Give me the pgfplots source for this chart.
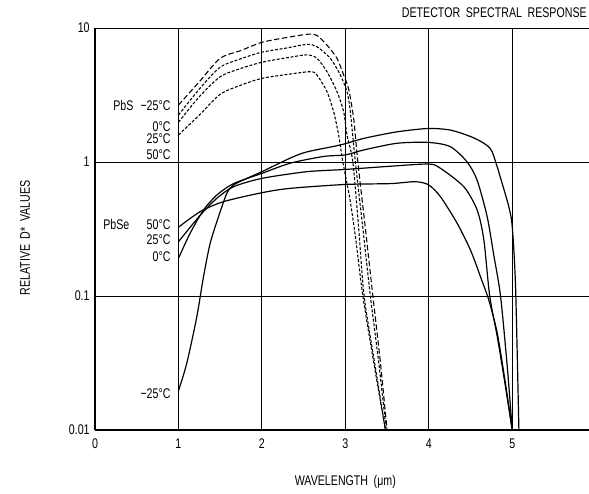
\documentclass[border=0pt]{standalone}
\usepackage{fontspec}
\setmainfont{Liberation Sans}[FakeStretch=0.76]
\usepackage{pgfplots}
\pgfplotsset{compat=1.18}
\begin{document}
\begin{tikzpicture}[font=\fontsize{10.5}{12}\selectfont]
\begin{axis}[
  scale only axis, width=370.5pt, height=301.5pt,
  xmin=0, xmax=5.92, ymode=log, ymin=0.01, ymax=10,
  axis lines*=left,
  axis line style={line width=0.8pt},
  xtick={0,1,2,3,4,5}, xticklabels={0,1,2,3,4,5},
  ytick={0.01,0.1,1,10}, yticklabels={0.01,0.1,1,10},
  major tick length=0pt, minor tick length=0pt,
  grid=major, major grid style={black, line width=0.6pt},
  /pgf/number format/assume math mode=true,
  yticklabel style={xshift=-0.5pt},
  xticklabel style={yshift=-3pt},
  every axis plot/.append style={black, no markers, smooth, tension=0.45},
  clip mode=individual,
]
% PbS (dashed)
\addplot[line width=0.8pt, dash pattern=on 4pt off 2pt] coordinates {
(1.0,2.66) (1.25,3.97) (1.5,5.94) (1.75,6.8) (2.0,7.82) (2.3,8.5) (2.56,9.0) (2.66,8.8) (2.78,7.46) (2.9,5.94) (2.98,4.46) (3.04,3.5) (3.1,2.1) (3.15,1.0) (3.24,0.32) (3.33,0.1) (3.42,0.032) (3.50,0.01)};
\addplot[line width=0.8pt, dash pattern=on 2.2pt off 1.3pt] coordinates {
(1.0,2.24) (1.25,3.5) (1.5,5.1) (1.75,5.9) (2.0,6.6) (2.3,7.1) (2.54,7.55) (2.66,7.25) (2.82,5.94) (2.94,4.46) (3.02,3.35) (3.06,2.37) (3.12,1.0) (3.21,0.32) (3.30,0.1) (3.40,0.032) (3.49,0.01)};
\addplot[line width=0.8pt, dash pattern=on 2.2pt off 1.3pt] coordinates {
(1.0,1.98) (1.25,3.07) (1.5,4.33) (1.75,5.0) (2.0,5.55) (2.3,6.0) (2.54,6.3) (2.66,5.94) (2.78,4.72) (2.90,3.35) (2.98,2.37) (3.02,1.59) (3.09,1.0) (3.16,0.32) (3.225,0.1) (3.35,0.032) (3.48,0.01)};
\addplot[line width=0.8pt, dash pattern=on 2.2pt off 1.3pt] coordinates {
(1.0,1.59) (1.25,2.24) (1.5,3.2) (1.75,3.75) (2.0,4.21) (2.3,4.5) (2.58,4.72) (2.66,4.46) (2.78,3.35) (2.86,2.37) (2.92,1.59) (2.97,1.0) (3.05,0.55) (3.12,0.28) (3.21,0.1) (3.34,0.032) (3.48,0.01)};
% PbSe (solid)
\addplot[line width=0.9pt] coordinates {
(1.0,0.326) (1.26,0.426) (1.54,0.506) (2.0,0.59) (2.34,0.636) (3.0,0.68) (3.54,0.69) (3.84,0.713) (4.0,0.674) (4.14,0.551) (4.34,0.349) (4.5,0.22) (4.62,0.139) (4.72,0.093) (4.82,0.053) (4.92,0.022) (5.0,0.01)};
\addplot[line width=0.9pt] coordinates {
(1.0,0.254) (1.26,0.40) (1.46,0.536) (1.66,0.654) (2.0,0.755) (2.54,0.847) (3.0,0.88) (3.54,0.93) (4.0,0.966) (4.14,0.897) (4.42,0.654) (4.58,0.438) (4.66,0.262) (4.73,0.1) (4.82,0.05) (4.90,0.025) (5.0,0.01)};
\addplot[line width=0.9pt] coordinates {
(1.0,0.191) (1.14,0.294) (1.30,0.438) (1.46,0.567) (1.66,0.69) (2.0,0.823) (2.34,0.98) (2.74,1.1) (3.0,1.13) (3.22,1.23) (3.62,1.38) (4.0,1.40) (4.26,1.30) (4.46,1.0) (4.58,0.73) (4.70,0.39) (4.78,0.2) (4.86,0.1) (4.94,0.03) (5.0,0.01)};
\addplot[line width=0.9pt] coordinates {
(1.0,0.0196) (1.10,0.0315) (1.22,0.07) (1.30,0.139) (1.38,0.247) (1.48,0.39) (1.58,0.584) (1.66,0.674) (1.82,0.755) (2.0,0.847) (2.34,1.07) (2.54,1.19) (2.94,1.34) (3.22,1.50) (3.62,1.68) (4.0,1.78) (4.26,1.73) (4.5,1.55) (4.66,1.38) (4.76,1.19) (4.88,0.69) (4.96,0.46) (5.0,0.33) (5.04,0.117) (5.08,0.01)};
% labels
\node[anchor=east, inner sep=0pt] at (axis cs:0.908,2.62) {PbS\hspace{0.5em}−25°C};
\node[anchor=east, inner sep=0pt] at (axis cs:0.908,1.83) {0°C};
\node[anchor=east, inner sep=0pt] at (axis cs:0.908,1.49) {25°C};
\node[anchor=east, inner sep=0pt] at (axis cs:0.908,1.13) {50°C};
\node[anchor=west, inner sep=0pt] at (axis cs:0.096,0.339) {PbSe};
\node[anchor=east, inner sep=0pt] at (axis cs:0.908,0.339) {50°C};
\node[anchor=east, inner sep=0pt] at (axis cs:0.908,0.262) {25°C};
\node[anchor=east, inner sep=0pt] at (axis cs:0.908,0.196) {0°C};
\node[anchor=east, inner sep=0pt] at (axis cs:0.908,0.0188) {−25°C};
\node[anchor=east, inner sep=0pt] at ([yshift=11.25pt]rel axis cs:0.996,1) {DETECTOR\hspace{0.4em}SPECTRAL\hspace{0.4em}RESPONSE};
\node[anchor=center, inner sep=0pt] at ([yshift=-39pt]axis cs:3,0.01) {WAVELENGTH\hspace{0.4em}(μm)};
\node[anchor=center, inner sep=0pt, rotate=90] at ([xshift=-52.5pt]rel axis cs:0,0.478) {RELATIVE\hspace{0.4em}D*\hspace{0.4em}VALUES};
\end{axis}
\pgfresetboundingbox
\path[use as bounding box] (-71.25pt,-47.25pt) rectangle (370.5pt,322.5pt);
\end{tikzpicture}
\end{document}
